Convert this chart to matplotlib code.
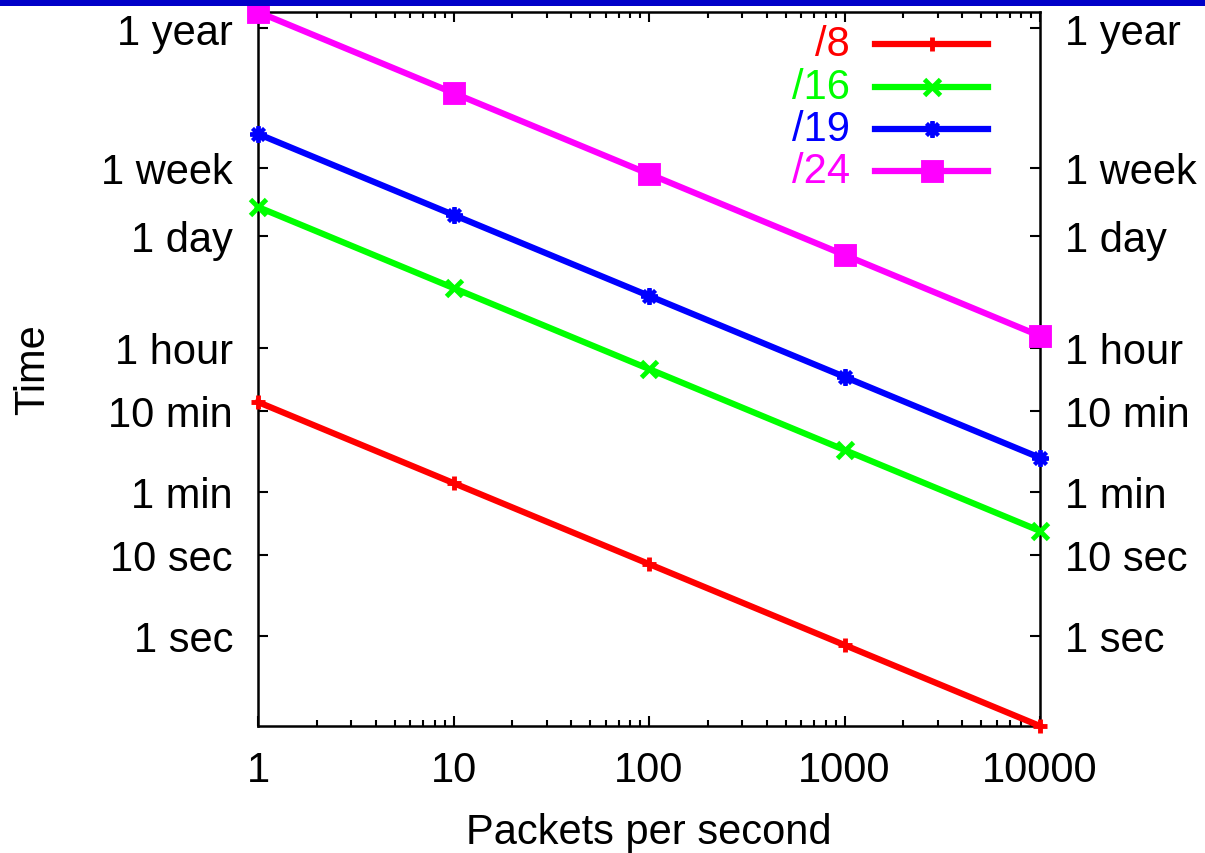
import matplotlib
matplotlib.use("Agg")
import matplotlib.pyplot as plt
from matplotlib.patches import Rectangle
from matplotlib.lines import Line2D
from matplotlib.ticker import LogLocator, NullFormatter, FixedLocator, FixedFormatter

plt.rcParams['font.family'] = ['Liberation Sans', 'DejaVu Sans']

rates = [1, 10, 100, 1000, 10000]
labels = ["/8", "/16", "/19", "/24"]
times_8 = [768, 76.8, 7.68, 0.768, 0.0768]
times_16 = [196608, 19660.8, 1966.08, 196.608, 19.6608]
times_19 = [1572864, 157286.4, 15728.64, 1572.864, 157.2864]
times_24 = [50331648, 5033164.8, 503316.48, 50331.648, 5033.1648]
series = [times_8, times_16, times_19, times_24]
colors = ["#ff0000", "#00ff00", "#0000ff", "#ff00ff"]
markers = ["+", "x", (8, 2, 0), "s"]
msizes = [10, 11, 12, 13]
mews = [3.5, 3.5, 2.8, 3.5]

ytick_vals = [1, 10, 60, 600, 3600, 86400, 604800, 31536000]
ytick_labels = ["1 sec", "10 sec", "1 min", "10 min", "1 hour", "1 day", "1 week", "1 year"]
xtick_vals = [1, 10, 100, 1000, 10000]
xtick_labels = ["1", "10", "100", "1000", "10000"]

FS = 30
W, H = 1205, 854
fig = plt.figure(figsize=(W / 100, H / 100), dpi=100)
fig.patches.append(Rectangle((0, 1 - 7 / H), 1, 7 / H, transform=fig.transFigure,
                             facecolor="#0000c8", edgecolor="none", zorder=10))

ax = fig.add_axes([258 / W, 1 - 727 / H, (1040 - 258) / W, (727 - 13) / H])

for vals, c, m, ms, mw in zip(series, colors, markers, msizes, mews):
    ax.plot(rates, vals, color=c, lw=4.5, marker=m, ms=ms, mew=mw,
            mfc=c, mec=c, clip_on=False, zorder=3)

ax.set_xscale("log")
ax.set_yscale("log")
ax.set_xlim(1, 10000)
ax.set_ylim(0.0768, 50331648)

ax.xaxis.set_major_locator(FixedLocator(xtick_vals))
ax.xaxis.set_major_formatter(FixedFormatter(xtick_labels))
ax.xaxis.set_minor_locator(LogLocator(base=10, subs=range(2, 10)))
ax.xaxis.set_minor_formatter(NullFormatter())
ax.yaxis.set_major_locator(FixedLocator(ytick_vals))
ax.yaxis.set_major_formatter(FixedFormatter(ytick_labels))
ax.yaxis.set_minor_locator(FixedLocator([]))

ax.tick_params(axis="both", which="major", direction="in", length=7, width=1.5,
               labelsize=FS, top=True, right=True, labelright=True)
ax.tick_params(axis="both", which="minor", direction="in", length=4, width=1.5,
               top=True, right=True)
ax.tick_params(axis="x", which="major", pad=17)
ax.tick_params(axis="y", which="major", pad=18)
for s in ax.spines.values():
    s.set_linewidth(1.8)

ax.set_xlabel("Packets per second", fontsize=FS, labelpad=16)
ax.set_ylabel("Time", fontsize=FS)
ax.yaxis.set_label_coords((53 - 258) / (1040 - 258), 0.5)

# legend (manual, right-aligned coloured labels)
def ax_x(px):
    return (px - 258) / (1040 - 258)

def ax_y(py):
    return (727 - py) / (727 - 13)

rows = [45, 88, 130, 172]
for lab, c, m, ms, mw, py in zip(labels, colors, markers, msizes, mews, rows):
    ax.text(ax_x(850), ax_y(py), lab, color=c, fontsize=FS, ha="right", va="center",
            transform=ax.transAxes)
    ax.add_line(Line2D([ax_x(875), ax_x(988)], [ax_y(py), ax_y(py)], color=c, lw=4.5,
                       transform=ax.transAxes))
    ax.add_line(Line2D([ax_x(932)], [ax_y(py)], color=c, marker=m, ms=ms, mew=mw,
                       mfc=c, mec=c, transform=ax.transAxes))

fig.savefig("out.png", dpi=100)
